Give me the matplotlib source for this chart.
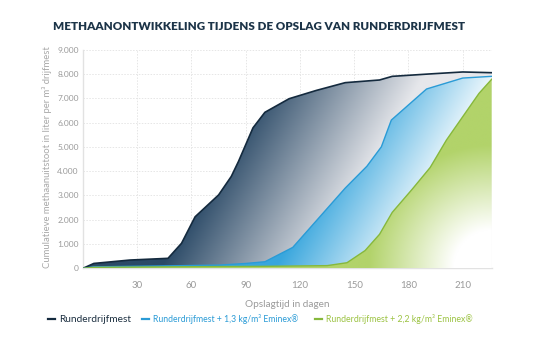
import numpy as np
import matplotlib.pyplot as plt
from matplotlib.patches import Polygon
from matplotlib.lines import Line2D
from matplotlib.colors import to_rgb
from matplotlib.ticker import FuncFormatter

# Cumulative methane emission (litre per m3 slurry) against storage time (days)
days_base = [0, 6, 26, 47, 54.5, 62, 75, 82, 86, 94, 100.6, 114, 129, 145, 164, 171, 192, 210, 226]
vals_base = [0, 200, 340, 410, 1030, 2120, 3020, 3780, 4400, 5780, 6420, 6980, 7320, 7640, 7750, 7900, 8000, 8080, 8050]

days_13 = [0, 6, 47, 75, 90, 100.6, 116, 145, 157, 165, 170.5, 190, 210, 226]
vals_13 = [0, 60, 100, 130, 200, 270, 860, 3300, 4200, 5000, 6100, 7380, 7830, 7900]

days_22 = [0, 6, 47, 100, 135, 146, 156, 164, 171, 182, 192, 201, 210, 219, 226]
vals_22 = [0, 40, 60, 80, 110, 230, 730, 1400, 2300, 3250, 4150, 5280, 6240, 7200, 7780]

x_ticks = [30, 60, 90, 120, 150, 180, 210]
y_ticks = [0, 1000, 2000, 3000, 4000, 5000, 6000, 7000, 8000, 9000]

labels = ["Runderdrijfmest",
          "Runderdrijfmest + 1,3 kg/m³ Eminex®",
          "Runderdrijfmest + 2,2 kg/m³ Eminex®"]
line_colors = ["#142a3e", "#2a9bd6", "#86b83c"]
text_colors = ["#1c2f40", "#2a9bd6", "#9cc343"]
label_sizes = [7.3, 6.2, 6.3]

title = "METHAANONTWIKKELING TIJDENS DE OPSLAG VAN RUNDERDRIJFMEST"
xlabel = "Opslagtijd in dagen"
ylabel = "Cumulatieve methaanuitstoot in liter per m³ drijfmest"

FONT = "Lato"
GRAY = "#9a9a9a"
XMAX, YMAX = 226, 9000

fig = plt.figure(figsize=(5.46, 3.41), dpi=100)
ax = fig.add_axes([0.152, 0.2132, 0.7485, 0.6413])
ax.set_xlim(0, XMAX)
ax.set_ylim(0, YMAX)

# pixel grid over the axes for the gradient fills
nx, ny = 600, 320
U, W = np.meshgrid(np.linspace(0, 1, nx), np.linspace(0, 1, ny))
ax_w_px, ax_h_px = 408.0, 219.0


def blend(t, c0, c1):
    t = np.clip(t, 0, 1)[..., None]
    a = np.array(to_rgb(c0))
    b = np.array(to_rgb(c1))
    return (1 - t) * a + t * b


def gradient_fill(x, y, img, zorder):
    verts = [(x[0], 0)] + list(zip(x, y)) + [(x[-1], 0)]
    poly = Polygon(verts, closed=True, facecolor="none", edgecolor="none")
    ax.add_patch(poly)
    im = ax.imshow(img, extent=[0, XMAX, 0, YMAX], origin="lower",
                   aspect="auto", zorder=zorder, interpolation="bilinear")
    im.set_clip_path(poly)


# dark series: slate blue fading to pale grey towards the right
s = U - 0.3 * W
img_base = blend((s - 0.19) / 0.38, "#2b4a67", "#e6e7eb")
gradient_fill(days_base, vals_base, img_base, 1)

# blue series: saturated along its edge, fading to white
img_13 = blend((s - 0.47) / 0.3, "#38a6dd", "#ffffff")
gradient_fill(days_13, vals_13, img_13, 2)

# green series: fades to white in the bottom-right corner
r = np.hypot((1 - U) * ax_w_px, W * ax_h_px)
img_22 = blend((r - 38) / 85, "#ffffff", "#b2d36a")
gradient_fill(days_22, vals_22, img_22, 3)

ax.plot(days_base, vals_base, color=line_colors[0], lw=1.2, zorder=4)
ax.plot(days_13, vals_13, color=line_colors[1], lw=1.0, zorder=5)
ax.plot(days_22, vals_22, color=line_colors[2], lw=1.0, zorder=6)

# grid and axes styling
ax.set_xticks(x_ticks)
ax.set_yticks(y_ticks)
ax.grid(True, color="#e6e6e6", lw=0.7, ls=(0, (1.5, 1.5)), zorder=0)
ax.set_axisbelow(True)
for side in ["top", "right"]:
    ax.spines[side].set_visible(False)
for side in ["left", "bottom"]:
    ax.spines[side].set_color("#e2e2e2")
    ax.spines[side].set_linewidth(1.0)
ax.tick_params(length=0)
ax.tick_params(axis="y", pad=3, labelsize=6, labelcolor=GRAY)
ax.tick_params(axis="x", pad=9, labelsize=7, labelcolor=GRAY)
ax.yaxis.set_major_formatter(FuncFormatter(lambda v, p: f"{int(v):,}".replace(",", ".")))
for lab in ax.get_xticklabels() + ax.get_yticklabels():
    lab.set_fontfamily(FONT)

ax.set_xlabel(xlabel, fontsize=7.2, color=GRAY, family=FONT, labelpad=7)
fig.text(47 / 546, 1 - 157 / 341, ylabel, rotation=90, ha="center", va="center",
         fontsize=6.8, color="#a8a8a8", family=FONT)

fig.text(259 / 546, 1 - 26 / 341, title, ha="center", va="center", fontsize=8.4,
         fontweight="heavy", color="#1c3448", family=FONT)

# legend row
leg_y = 1 - 319 / 341
dash_x = [48, 142, 315]
for lbl, lc, tc, fs, x0 in zip(labels, line_colors, text_colors, label_sizes, dash_x):
    fig.add_artist(Line2D([x0 / 546, (x0 + 7) / 546], [leg_y, leg_y],
                          color=lc, lw=1.6, transform=fig.transFigure))
    fig.text((x0 + 11) / 546, leg_y, lbl, ha="left", va="center",
             fontsize=fs, color=tc, family=FONT)

fig.savefig("out.png", dpi=100)
